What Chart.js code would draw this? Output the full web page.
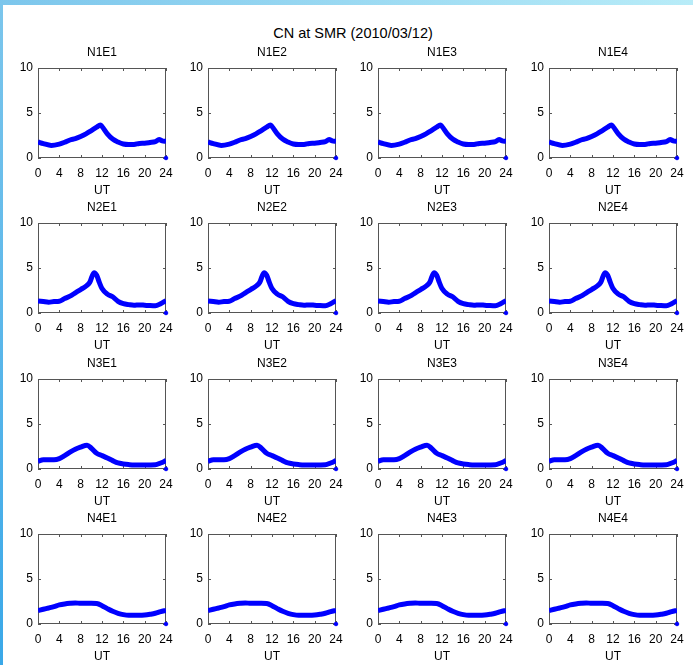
<!DOCTYPE html>
<html>
<head>
<meta charset="utf-8">
<script src="https://cdn.jsdelivr.net/npm/chart.js@4/dist/chart.umd.min.js"></script>
<style>
  html, body { margin: 0; padding: 0; background: #fff; }
  #page { position: relative; width: 693px; height: 665px; overflow: hidden; background: #fff; }
  #band-top { position: absolute; left: 0; top: 0; width: 693px; height: 5px;
    background: linear-gradient(to right, #7cc6ec, #b8ecf8); z-index: 5; }
  #band-left { position: absolute; left: 0; top: 0; width: 3px; height: 665px;
    background: linear-gradient(to bottom, #7cc6ec, #3aa8e8); z-index: 5; }
  #suptitle { position: absolute; left: 253px; top: 25px; width: 200px; text-align: center;
    font: 14.5px 'Liberation Sans', Arial, sans-serif; line-height: 16px; color: #000; white-space: nowrap; }
  .panel { position: absolute; width: 181px; height: 158px; }
</style>
</head>
<body>
<div id="page">
  <div id="band-top"></div>
  <div id="band-left"></div>
  <div id="suptitle">CN at SMR (2010/03/12)</div>
</div>
<script>
/* CN at SMR (2010/03/12) - 4x4 grid, one curve shape per N row */

const rowNames = ['N1', 'N2', 'N3', 'N4'];
const colNames = ['E1', 'E2', 'E3', 'E4'];

const utN1 = [0, 1, 2.5, 4, 5, 6, 7, 8, 9, 10, 11, 11.7, 12, 13, 14, 15, 16, 17, 18, 19, 20, 21, 22, 22.7, 23.3, 24];
const cnN1 = [1.78, 1.6, 1.4, 1.55, 1.75, 2.0, 2.15, 2.38, 2.68, 3.05, 3.42, 3.68, 3.5, 2.68, 2.1, 1.78, 1.56, 1.5, 1.5, 1.62, 1.64, 1.72, 1.82, 2.05, 1.9, 1.85];

const utN2 = [0, 1, 2, 3, 4, 5, 6, 7, 8, 9, 9.7, 10.5, 11, 11.5, 12, 13, 14, 15, 16, 17, 18, 19, 20, 21, 22, 23, 24];
const cnN2 = [1.34, 1.27, 1.2, 1.27, 1.3, 1.6, 1.87, 2.24, 2.61, 2.99, 3.4, 4.48, 4.2, 3.4, 2.72, 2.1, 1.8, 1.3, 1.04, 0.93, 0.86, 0.9, 0.86, 0.82, 0.8, 1.04, 1.38];

const utN3 = [0, 1, 2, 3, 4, 5, 6, 7, 8, 9.2, 10, 11, 12, 13, 14, 15, 16, 17, 18, 20, 22, 23, 24];
const cnN3 = [0.86, 1.04, 1.04, 1.04, 1.16, 1.49, 1.87, 2.2, 2.43, 2.65, 2.31, 1.75, 1.49, 1.23, 0.93, 0.67, 0.56, 0.49, 0.45, 0.45, 0.47, 0.67, 0.93];

const utN4 = [0, 1, 2, 3, 4, 5, 6, 7, 8, 9, 10, 11, 12, 13, 14, 15, 16, 17, 18, 19, 20, 21, 22, 23, 24];
const cnN4 = [1.49, 1.64, 1.78, 1.93, 2.12, 2.23, 2.3, 2.34, 2.3, 2.3, 2.3, 2.27, 2.04, 1.71, 1.41, 1.19, 1.04, 0.97, 0.97, 0.97, 1.0, 1.08, 1.19, 1.38, 1.52];

// lone marker sitting on the x axis at the end of each panel
const endMarkUT = [24];
const endMarkCN = [0];

const xTicks = [0, 4, 8, 12, 16, 20, 24];
const yTicks = [0, 5, 10];

const rowSeries = [
    { ut: utN1, cn: cnN1 },
    { ut: utN2, cn: cnN2 },
    { ut: utN3, cn: cnN3 },
    { ut: utN4, cn: cnN4 }
];

const plotLefts = [38, 208, 378, 549];
const plotTops = [68, 223, 379, 534];

Chart.defaults.font.family = "'Liberation Sans', Arial, sans-serif";
Chart.defaults.font.size = 12;
Chart.defaults.color = '#000';

// MATLAB-like box with inward tick marks on all four sides
const boxTicks = {
    id: 'boxTicks',
    beforeDatasetsDraw(chart) {
        const { ctx, chartArea: a, scales: { x, y } } = chart;
        ctx.save();
        ctx.strokeStyle = '#555';
        ctx.lineWidth = 1;
        ctx.strokeRect(a.left + 0.5, a.top + 0.5, a.right - a.left - 1, a.bottom - a.top - 1);
        ctx.beginPath();
        xTicks.forEach(v => {
            const px = Math.round(x.getPixelForValue(v)) + 0.5;
            ctx.moveTo(px, a.bottom); ctx.lineTo(px, a.bottom - 3);
            ctx.moveTo(px, a.top); ctx.lineTo(px, a.top + 3);
        });
        yTicks.forEach(v => {
            const py = Math.round(y.getPixelForValue(v)) + 0.5;
            ctx.moveTo(a.left, py); ctx.lineTo(a.left + 3, py);
            ctx.moveTo(a.right, py); ctx.lineTo(a.right - 3, py);
        });
        ctx.stroke();
        ctx.restore();
    }
};

function makePanel(r, c) {
    const page = document.getElementById('page');
    const div = document.createElement('div');
    div.className = 'panel';
    div.style.left = (plotLefts[c] - 38) + 'px';
    div.style.top = (plotTops[r] - 24) + 'px';
    const canvas = document.createElement('canvas');
    div.appendChild(canvas);
    page.appendChild(div);

    const s = rowSeries[r];
    new Chart(canvas.getContext('2d'), {
        type: 'scatter',
        data: {
            datasets: [{
                label: rowNames[r] + colNames[c],
                data: s.ut.map((u, i) => ({ x: u, y: s.cn[i] })),
                showLine: true,
                borderColor: '#0000ff',
                backgroundColor: '#0000ff',
                borderWidth: 5,
                pointRadius: 0,
                tension: 0.4,
                cubicInterpolationMode: 'monotone'
            }, {
                label: 'end',
                data: endMarkUT.map((u, i) => ({ x: u, y: endMarkCN[i] })),
                borderColor: '#0000ff',
                backgroundColor: '#0000ff',
                pointRadius: 1.8,
                clip: 4
            }]
        },
        options: {
            responsive: true,
            maintainAspectRatio: false,
            animation: false,
            events: [],
            // right padding leaves room for the "24" label (half width + tick padding)
            layout: { padding: { left: 0, right: 15, top: 0, bottom: 0 } },
            plugins: {
                legend: { display: false },
                tooltip: { enabled: false },
                title: {
                    display: true,
                    fullSize: false,
                    text: rowNames[r] + colNames[c],
                    color: '#000',
                    font: { size: 12, weight: 'normal' },
                    padding: { top: 1, bottom: 8.6 }
                }
            },
            scales: {
                x: {
                    type: 'linear',
                    min: 0,
                    max: 24,
                    afterFit: (scale) => { scale.height = 44; },
                    afterBuildTicks: (scale) => { scale.ticks = xTicks.map(v => ({ value: v })); },
                    grid: { display: false, drawTicks: false },
                    border: { display: false },
                    ticks: { padding: 8, maxRotation: 0, autoSkip: false, color: '#000', font: { size: 12 } },
                    title: { display: true, text: 'UT', color: '#000', font: { size: 12 }, padding: { top: 0, bottom: 3.8 } }
                },
                y: {
                    type: 'linear',
                    min: 0,
                    max: 10,
                    afterFit: (scale) => { scale.width = 38; },
                    afterBuildTicks: (scale) => { scale.ticks = yTicks.map(v => ({ value: v })); },
                    grid: { display: false, drawTicks: false },
                    border: { display: false },
                    ticks: { padding: 5, autoSkip: false, color: '#000', font: { size: 12 } }
                }
            }
        },
        plugins: [boxTicks]
    });
}

for (let r = 0; r < 4; r++) {
    for (let c = 0; c < 4; c++) makePanel(r, c);
}
</script>
</body>
</html>
